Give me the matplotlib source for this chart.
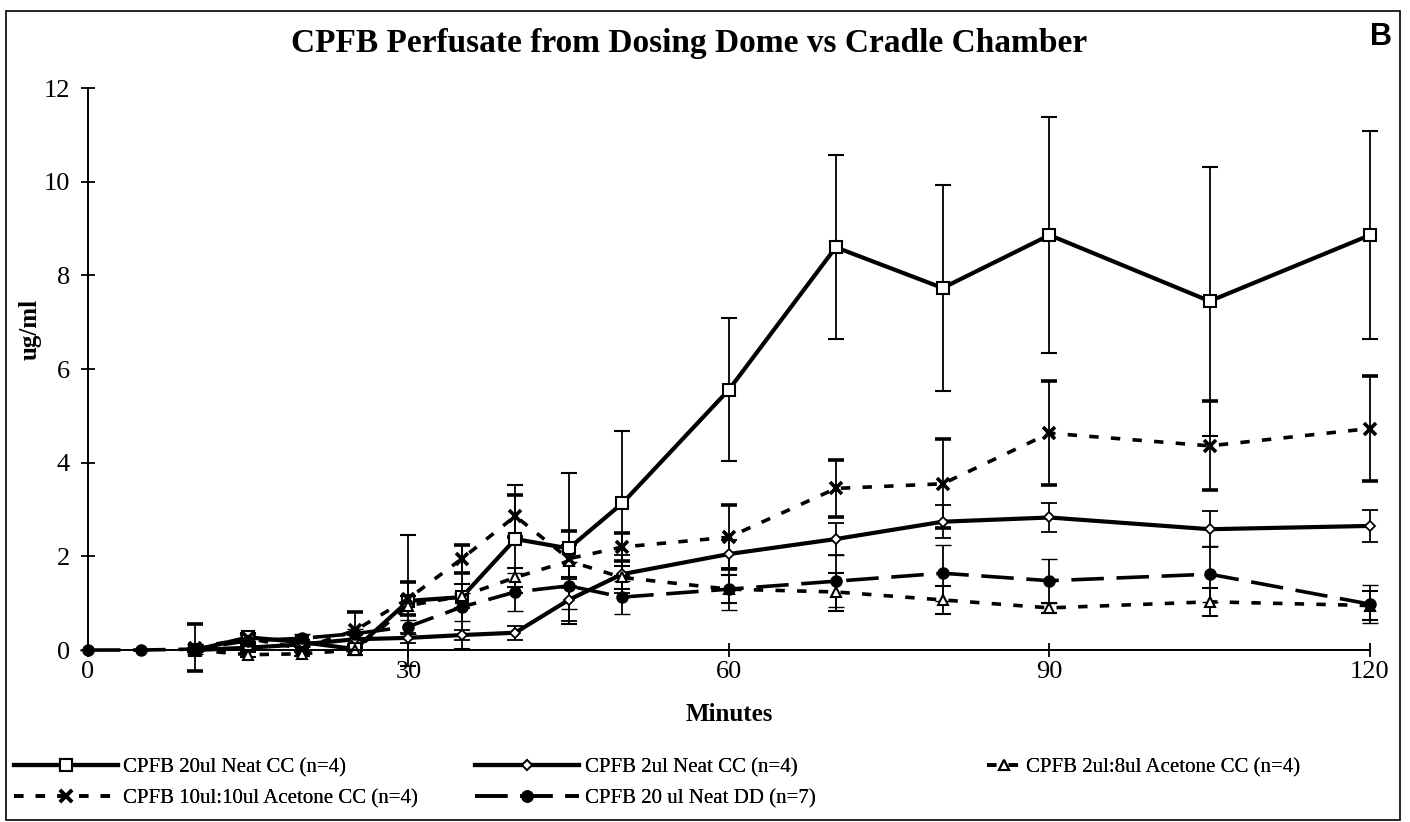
import numpy as np
import matplotlib
matplotlib.use("Agg")
import matplotlib.pyplot as plt
from matplotlib.patches import Rectangle

# -----------------------------------------------------------------------------
# Data
# -----------------------------------------------------------------------------
minutes_cc = [10, 15, 20, 25, 30, 35, 40, 45, 50, 60, 70, 80, 90, 105, 120]
minutes_dd = [0, 5, 10, 15, 20, 25, 30, 35, 40, 45, 50, 60, 70, 80, 90, 105, 120]

neat20_cc = [0.0, 0.27, 0.17, 0.02, 1.05, 1.13, 2.37, 2.17, 3.13, 5.56, 8.60, 7.73, 8.86, 7.45, 8.86]
neat20_cc_err = [0.05, 0.10, 0.05, 0.05, 1.40, 1.11, 1.15, 1.62, 1.55, 1.52, 1.96, 2.20, 2.52, 2.87, 2.22]

neat2_cc = [0.0, 0.05, 0.12, 0.23, 0.26, 0.32, 0.37, 1.07, 1.62, 2.05, 2.37, 2.74, 2.83, 2.58, 2.65]
neat2_cc_err = [0.0, 0.05, 0.05, 0.10, 0.10, 0.10, 0.15, 0.45, 0.40, 0.30, 0.35, 0.35, 0.30, 0.38, 0.35]

acetone_2_8 = [0.0, -0.10, -0.08, 0.0, 0.95, 1.15, 1.55, 1.90, 1.55, 1.30, 1.24, 1.07, 0.90, 1.03, 0.95]
acetone_2_8_err = [0.0, 0.05, 0.05, 0.10, 0.20, 0.25, 0.20, 0.35, 0.25, 0.30, 0.40, 0.30, 0.10, 0.30, 0.30]

acetone_10_10 = [0.05, 0.25, 0.03, 0.42, 1.10, 1.95, 2.86, 1.95, 2.20, 2.41, 3.45, 3.55, 4.63, 4.36, 4.73]
acetone_10_10_err = [0.50, 0.10, 0.05, 0.40, 0.35, 0.30, 0.45, 0.60, 0.30, 0.68, 0.60, 0.95, 1.11, 0.95, 1.13]

neat20_dd = [0.0, 0.0, 0.02, 0.20, 0.25, 0.35, 0.50, 0.92, 1.24, 1.37, 1.13, 1.30, 1.47, 1.64, 1.48, 1.62, 0.98]
neat20_dd_err = [0.0, 0.0, 0.10, 0.10, 0.10, 0.10, 0.15, 0.30, 0.40, 0.50, 0.35, 0.45, 0.55, 0.60, 0.47, 0.60, 0.40]

labels = [
    "CPFB 20ul Neat CC (n=4)",
    "CPFB 2ul Neat CC (n=4)",
    "CPFB 2ul:8ul Acetone CC (n=4)",
    "CPFB 10ul:10ul Acetone CC (n=4)",
    "CPFB 20 ul Neat DD (n=7)",
]

x_ticks = [0, 30, 60, 90, 120]
y_ticks = [0, 2, 4, 6, 8, 10, 12]

# -----------------------------------------------------------------------------
# Styles
# -----------------------------------------------------------------------------
SERIF = ["Liberation Serif", "DejaVu Serif"]
short_dash = (0, (2.6, 3.4))
long_dash = (0, (9, 3.5))

styles = [
    dict(ls="-", lw=3.0, marker="s", ms=8, mfc="white", mec="black", mew=1.5),
    dict(ls="-", lw=3.0, marker="D", ms=5, mfc="white", mec="black", mew=1.3),
    dict(ls=short_dash, lw=2.6, marker="^", ms=7, mfc="white", mec="black", mew=1.5),
    dict(ls=short_dash, lw=2.6, marker="x", ms=9, mfc="black", mec="black", mew=2.6),
    dict(ls=long_dash, lw=2.6, marker="o", ms=8, mfc="black", mec="black", mew=1.0),
]

series = [
    (minutes_cc, neat20_cc, neat20_cc_err),
    (minutes_cc, neat2_cc, neat2_cc_err),
    (minutes_cc, acetone_2_8, acetone_2_8_err),
    (minutes_cc, acetone_10_10, acetone_10_10_err),
    (minutes_dd, neat20_dd, neat20_dd_err),
]

# -----------------------------------------------------------------------------
# Figure
# -----------------------------------------------------------------------------
fig = plt.figure(figsize=(14.10, 8.22), dpi=100)
ax = fig.add_axes([0.0624, 0.2092, 0.9092, 0.6837])

handles = []
for (x, y, err), st, lab in zip(series, styles, labels):
    eb = ax.errorbar(
        x, y, yerr=err,
        color="black", ecolor="black", elinewidth=1.3, capsize=6, capthick=1.3,
        linestyle=st["ls"], linewidth=st["lw"],
        marker=st["marker"], markersize=st["ms"],
        markerfacecolor=st["mfc"], markeredgecolor=st["mec"],
        markeredgewidth=st["mew"], clip_on=False, label=lab,
    )
    for artist in list(eb.lines[1]) + list(eb.lines[2]):
        artist.set_clip_on(False)
    handles.append(eb.lines[0])

ax.set_xlim(0, 120)
ax.set_ylim(0, 12)
ax.set_xticks(x_ticks)
ax.set_yticks(y_ticks)
ax.spines["top"].set_visible(False)
ax.spines["right"].set_visible(False)
for sp in ("left", "bottom"):
    ax.spines[sp].set_linewidth(1.4)
ax.tick_params(direction="inout", length=10, width=1.3, labelsize=19)
ax.tick_params(axis="x", pad=3)
ax.tick_params(axis="y", pad=8)
for t in ax.get_xticklabels() + ax.get_yticklabels():
    t.set_family(SERIF)

ax.set_xlabel("Minutes", fontsize=18, fontweight="bold", family=SERIF, labelpad=14)
ax.set_ylabel("ug/ml", fontsize=18, fontweight="bold", family=SERIF)
ax.yaxis.set_label_coords(-0.036, 0.57)

fig.text(0.489, 0.947, "CPFB Perfusate from Dosing Dome vs Cradle Chamber",
         ha="center", va="center", fontsize=24, fontweight="bold", family=SERIF)
fig.text(0.9795, 0.955, "B", ha="center", va="center", fontsize=22,
         fontweight="bold", family=["Liberation Sans", "DejaVu Sans"])

# legend: three columns placed like the original
leg_kw = dict(loc="upper left", frameon=False, handletextpad=0.25,
              labelspacing=0.55, borderaxespad=0, borderpad=0,
              prop={"family": SERIF, "size": 15})
col_groups = [([0, 3], 0.010, 5.0), ([1, 4], 0.337, 5.0), ([2], 0.700, 1.6)]
for idx, x0, hl in col_groups:
    leg = fig.legend([handles[i] for i in idx], [labels[i] for i in idx],
                     bbox_to_anchor=(x0, 0.078), handlelength=hl, **leg_kw)
    fig.add_artist(leg)

# outer frame around the whole chart
fig.patches.append(Rectangle((0.004, 0.003), 0.989, 0.984, transform=fig.transFigure,
                             fill=False, edgecolor="black", linewidth=1.2))

fig.savefig("out.png", dpi=100)
